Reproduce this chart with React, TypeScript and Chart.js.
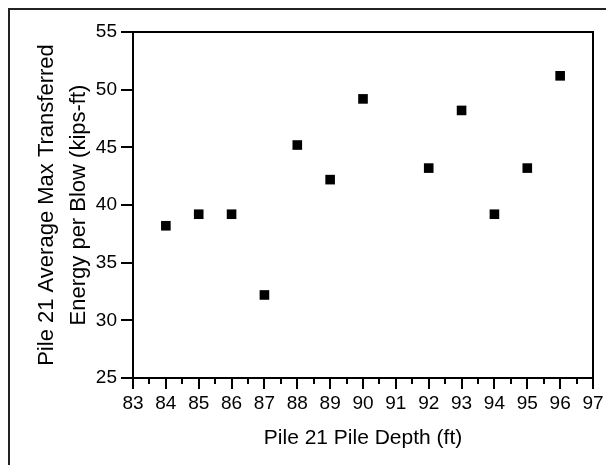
import React, { useEffect, useRef } from "react";
import { Chart, registerables } from "chart.js";

Chart.register(...registerables);

const depths = [84, 85, 86, 87, 88, 89, 90, 92, 93, 94, 95, 96];
const energies = [38.2, 39.2, 39.2, 32.2, 45.2, 42.2, 49.2, 43.2, 48.2, 39.2, 43.2, 51.2];
const xTitle = "Pile 21 Pile Depth (ft)";
const yTitle = ["Pile 21 Average Max Transferred", "Energy per Blow (kips-ft)"];
const xMin = 83;
const xMax = 97;
const yMin = 25;
const yMax = 55;

const FONT = "'Liberation Sans', Arial, Helvetica, sans-serif";

const boxPlugin = {
  id: "boxAndMinor",
  afterDraw(chart: any) {
    const { ctx, chartArea } = chart;
    const xs = chart.scales.x;
    ctx.save();
    ctx.strokeStyle = "#000";
    ctx.lineWidth = 2;
    ctx.strokeRect(chartArea.left, chartArea.top, chartArea.right - chartArea.left, chartArea.bottom - chartArea.top);
    ctx.lineWidth = 2;
    for (let v = xMin + 0.5; v < xMax; v += 1) {
      const px = Math.round(xs.getPixelForValue(v));
      ctx.beginPath();
      ctx.moveTo(px, chartArea.bottom);
      ctx.lineTo(px, chartArea.bottom + 6);
      ctx.stroke();
    }
    ctx.restore();
  },
};

export default function App() {
  const ref = useRef<HTMLCanvasElement | null>(null);
  useEffect(() => {
    document.body.style.margin = "0";
    if (!ref.current) return;
    const chart = new Chart(ref.current, {
      type: "scatter",
      data: {
        datasets: [
          {
            data: depths.map((d, i) => ({ x: d, y: energies[i] })),
            pointStyle: "rect",
            pointRadius: 6.8,
            pointHoverRadius: 6.8,
            backgroundColor: "#000",
            borderWidth: 0,
          },
        ],
      },
      options: {
        animation: false,
        responsive: false,
        layout: { padding: { left: 0, top: 22, right: 13, bottom: 0 } },
        plugins: { legend: { display: false }, tooltip: { enabled: false } },
        scales: {
          x: {
            type: "linear",
            min: xMin,
            max: xMax,
            afterFit: (s: any) => {
              s.height = 87;
              s.paddingLeft = 0;
              s.paddingRight = 0;
            },
            border: { display: true, color: "#000", width: 2 },
            grid: { drawOnChartArea: false, drawTicks: true, tickLength: 11, color: "#000", lineWidth: 2 },
            ticks: {
              stepSize: 1,
              autoSkip: false,
              maxRotation: 0,
              color: "#000",
              padding: 3,
              font: { family: FONT, size: 19 },
            },
            title: {
              display: true,
              text: xTitle,
              color: "#000",
              font: { family: FONT, size: 21 },
              padding: { top: 0, bottom: 14 },
            },
          },
          y: {
            type: "linear",
            min: yMin,
            max: yMax,
            afterFit: (s: any) => {
              s.width = 123;
              s.paddingTop = 0;
              s.paddingBottom = 0;
            },
            border: { display: true, color: "#000", width: 2 },
            grid: { drawOnChartArea: false, drawTicks: true, tickLength: 12, color: "#000", lineWidth: 2 },
            ticks: {
              stepSize: 5,
              color: "#000",
              padding: 4,
              font: { family: FONT, size: 19 },
            },
            title: {
              display: true,
              text: yTitle,
              color: "#000",
              font: { family: FONT, size: 22, lineHeight: 1.44 },
              padding: { top: 21, bottom: 0 },
            },
          },
        },
      },
      plugins: [boxPlugin],
    });
    return () => chart.destroy();
  }, []);
  return (
    <div style={{ padding: "8px 0 0 8px", width: 598, background: "#fff" }}>
      <div
        style={{
          width: 596,
          height: 455,
          borderLeft: "2px solid #222",
          borderTop: "2px solid #222",
          background: "#fff",
        }}
      >
        <canvas ref={ref} width={596} height={455} style={{ display: "block" }} />
      </div>
    </div>
  );
}
